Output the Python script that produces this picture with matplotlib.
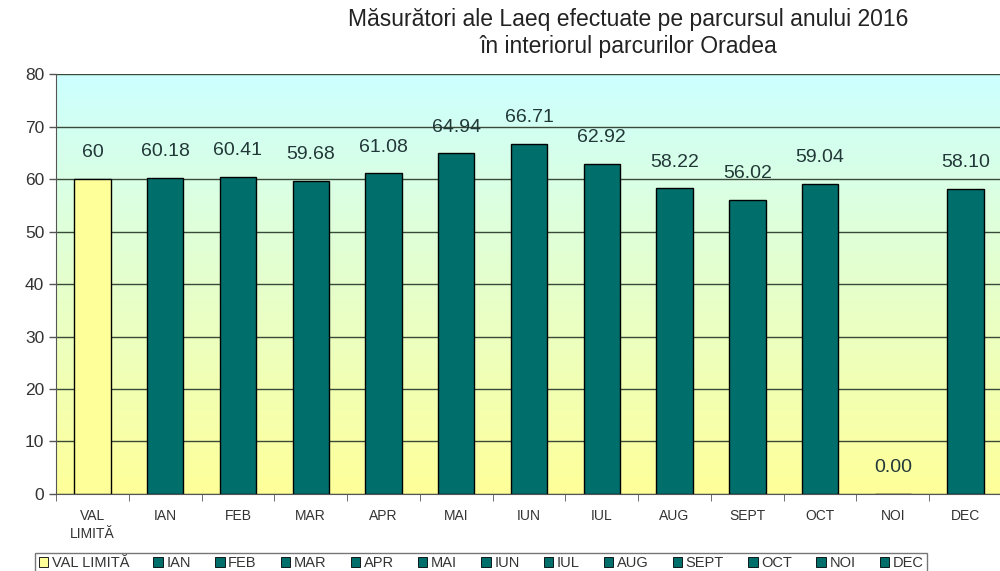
import matplotlib
matplotlib.use("Agg")
import matplotlib.pyplot as plt
import numpy as np
from matplotlib.patches import Patch

categories = ["VAL\nLIMITĂ", "IAN", "FEB", "MAR", "APR", "MAI", "IUN", "IUL", "AUG", "SEPT", "OCT", "NOI", "DEC"]
legend_names = ["VAL LIMITĂ", "IAN", "FEB", "MAR", "APR", "MAI", "IUN", "IUL", "AUG", "SEPT", "OCT", "NOI", "DEC"]
values = [60, 60.18, 60.41, 59.68, 61.08, 64.94, 66.71, 62.92, 58.22, 56.02, 59.04, 0.00, 58.10]
labels = ["60", "60.18", "60.41", "59.68", "61.08", "64.94", "66.71", "62.92", "58.22", "56.02", "59.04", "0.00", "58.10"]

plt.rcParams['font.family'] = ['Liberation Sans', 'DejaVu Sans']

fig = plt.figure(figsize=(10, 5.71), dpi=100)
ax = fig.add_axes([0.056, 0.135, 0.946, 0.735])

n = len(values)
x = np.arange(n)
ax.set_xlim(-0.5, n - 0.5)
ax.set_ylim(0, 80)

# gradient background
top = np.array([0.80, 1.0, 1.0])
bot = np.array([1.0, 1.0, 0.60])
t = np.linspace(0, 1, 256)[:, None]
grad = (top * (1 - t) + bot * t)[:, None, :]
ax.imshow(grad, extent=[-0.5, n - 0.5, 0, 80], aspect='auto', origin='upper', zorder=0)

ax.set_yticks(np.arange(0, 81, 10))
ax.yaxis.grid(True, color='#3a4a38', linewidth=1.0, zorder=1)
ax.set_axisbelow(True)

colors = ['#FFFF99'] + ['#006F6C'] * (n - 1)
bars = ax.bar(x, values, width=0.5, color=colors, edgecolor='black', linewidth=1.0, zorder=2)

for xi, v, lab in zip(x, values, labels):
    ax.text(xi, v + 5.0, lab, ha='center', va='center', fontsize=14, color='#223838', zorder=3)

ax.set_xticks(x)
ax.set_xticklabels(categories, fontsize=10, color='#333333', linespacing=1.35)
ax.tick_params(axis='x', which='major', length=0, pad=11)
ax.set_xticks(np.arange(-0.5, n, 1.0), minor=True)
ax.tick_params(axis='x', which='minor', length=5, color='#555555')
ax.tick_params(axis='y', labelsize=12.5, length=5, width=1, color='#555555', labelcolor='#333333')

for s in ['top', 'right']:
    ax.spines[s].set_visible(False)
ax.spines['left'].set_color('#555555')
ax.spines['bottom'].set_color('#555555')

fig.text(0.628, 0.966, "Măsurători ale Laeq efectuate pe parcursul anului 2016", ha='center', va='center', fontsize=16.5, color='#222222')
fig.text(0.628, 0.919, "în interiorul parcurilor Oradea", ha='center', va='center', fontsize=16.5, color='#222222')

handles = [Patch(facecolor=c, edgecolor='black', linewidth=0.6) for c in colors]
leg = fig.legend(handles, legend_names, loc='upper left', bbox_to_anchor=(0.035, 0.032), ncol=n,
                 fontsize=10.5, frameon=True, fancybox=False, edgecolor='#555555',
                 handlelength=0.65, handleheight=0.65, handletextpad=0.25, columnspacing=1.65,
                 borderpad=0.25, borderaxespad=0.0)
leg.get_frame().set_linewidth(1.0)
for txt in leg.get_texts():
    txt.set_color('#333333')

fig.savefig("out.png", dpi=100)
